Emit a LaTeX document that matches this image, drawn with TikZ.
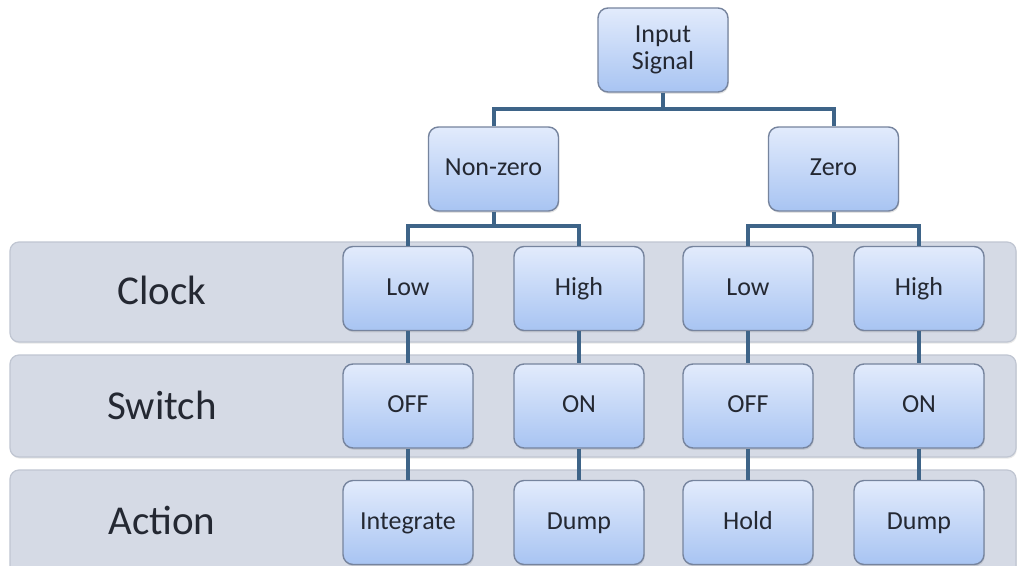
\documentclass[tikz,border=0pt]{standalone}
\usepackage{fontspec}
\setmainfont{Carlito}
\usetikzlibrary{shadows}
\definecolor{laneFill}{RGB}{213,218,229}
\definecolor{laneLine}{RGB}{192,198,210}
\definecolor{boxTop}{RGB}{226,235,252}
\definecolor{boxBot}{RGB}{168,196,242}
\definecolor{boxLine}{RGB}{118,132,158}
\definecolor{connCol}{RGB}{62,100,136}
\definecolor{txtCol}{RGB}{36,40,50}
\tikzset{
  lane/.style={draw=laneLine, fill=laneFill, line width=1.2pt, rounded corners=9pt,
    drop shadow={opacity=0.18, shadow xshift=0.8pt, shadow yshift=-1.6pt}},
  lanelabel/.style={text=txtCol, font=\fontsize{41}{46}\selectfont, anchor=center},
  box/.style={draw=boxLine, line width=1.4pt, rounded corners=10pt,
    top color=boxTop, bottom color=boxBot, minimum width=130pt, minimum height=84pt,
    inner sep=0pt, align=center, text=txtCol, font=\fontsize{26}{30}\selectfont,
    drop shadow={opacity=0.22, shadow xshift=0.8pt, shadow yshift=-1.8pt}},
  onebox/.style={box, text height=18pt, text depth=5pt},
  conn/.style={draw=connCol, line width=4pt}
}
\begin{document}
\begin{tikzpicture}[x=1pt,y=-1pt]
\useasboundingbox (0,0) rectangle (1022,565);
\clip (0,0) rectangle (1022,565);
\fill[white] (0,0) rectangle (1022,565);

% swim lanes
\draw[lane] (10,242) rectangle (1016,342);
\draw[lane] (10,355) rectangle (1016,457);
\draw[lane] (10,470) rectangle (1016,590);
\node[lanelabel] (lclock)  at (162,290) {Clock};
\node[lanelabel] (lswitch) at (162,405) {Switch};
\node[lanelabel] (laction) at (162,520) {Action};

% decision tree
\node[box] (in) at (663,50) {Input\\[-3pt]Signal};
\node[onebox] (nz) at (493.5,169) {Non-zero};
\node[onebox] (zr) at (833.5,169) {Zero};

\node[onebox] (c1) at (408,288.5) {Low};
\node[onebox] (c2) at (579,288.5) {High};
\node[onebox] (c3) at (748,288.5) {Low};
\node[onebox] (c4) at (919,288.5) {High};

\node[onebox] (s1) at (408,406) {OFF};
\node[onebox] (s2) at (579,406) {ON};
\node[onebox] (s3) at (748,406) {OFF};
\node[onebox] (s4) at (919,406) {ON};

\node[onebox] (a1) at (408,522.5) {Integrate};
\node[onebox] (a2) at (579,522.5) {Dump};
\node[onebox] (a3) at (748,522.5) {Hold};
\node[onebox] (a4) at (919,522.5) {Dump};

% connectors
\draw[conn] (nz.north) -- ++(0,-17) coordinate (b0) -| (zr.north);
\draw[conn] (in.south) -- (in.south |- b0);
\draw[conn] (c1.north) -- ++(0,-20) coordinate (b1) -| (c2.north);
\draw[conn] (nz.south) -- (nz.south |- b1);
\draw[conn] (c3.north) -- ++(0,-20) coordinate (b2) -| (c4.north);
\draw[conn] (zr.south) -- (zr.south |- b2);
\foreach \i in {1,2,3,4}{
  \draw[conn] (c\i.south) -- (s\i.north);
  \draw[conn] (s\i.south) -- (a\i.north);
}
\end{tikzpicture}
\end{document}
